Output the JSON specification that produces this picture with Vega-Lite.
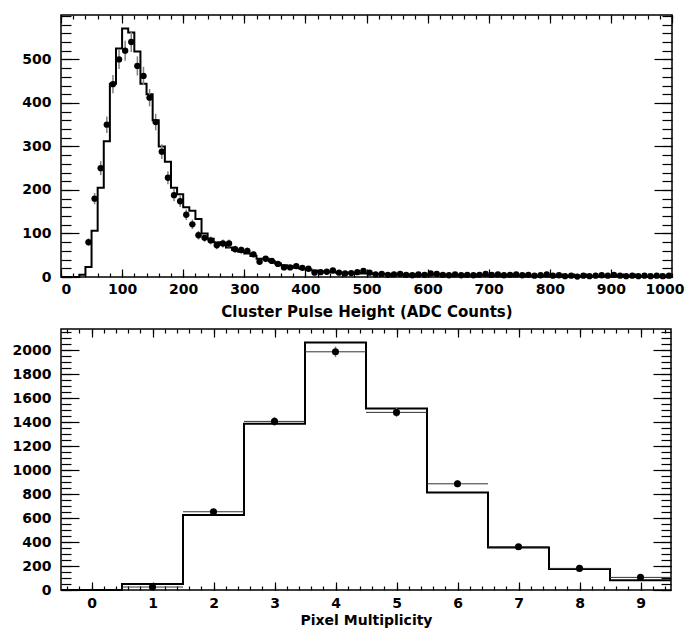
{
  "$schema": "https://vega.github.io/schema/vega-lite/v6.json",
  "background": "white",
  "padding": {"left": 11, "top": 13, "right": 0, "bottom": 0},
  "spacing": 7,
  "datasets": {
    "mcTop": [
      {"e":0,"n":0},{"e":10,"n":0},{"e":20,"n":0},{"e":30,"n":5},{"e":40,"n":23},{"e":50,"n":106},{"e":60,"n":205},{"e":70,"n":312},{"e":80,"n":444},{"e":90,"n":525},
      {"e":100,"n":571},{"e":110,"n":562},{"e":120,"n":518},{"e":130,"n":444},{"e":140,"n":420},{"e":150,"n":360},{"e":160,"n":300},{"e":170,"n":265},{"e":180,"n":205},{"e":190,"n":190},
      {"e":200,"n":160},{"e":210,"n":152},{"e":220,"n":133},{"e":230,"n":100},{"e":240,"n":88},{"e":250,"n":80},{"e":260,"n":74},{"e":270,"n":68},{"e":280,"n":62},{"e":290,"n":58},
      {"e":300,"n":54},{"e":310,"n":48},{"e":320,"n":42},{"e":330,"n":42},{"e":340,"n":36},{"e":350,"n":31},{"e":360,"n":27},{"e":370,"n":24},{"e":380,"n":21},{"e":390,"n":19},
      {"e":400,"n":17},{"e":410,"n":15},{"e":420,"n":13},{"e":430,"n":12},{"e":440,"n":11},{"e":450,"n":10},{"e":460,"n":10},{"e":470,"n":9},{"e":480,"n":9},{"e":490,"n":8},
      {"e":500,"n":8},{"e":510,"n":7},{"e":520,"n":7},{"e":530,"n":7},{"e":540,"n":6},{"e":550,"n":6},{"e":560,"n":6},{"e":570,"n":6},{"e":580,"n":5},{"e":590,"n":5},
      {"e":600,"n":5},{"e":610,"n":5},{"e":620,"n":5},{"e":630,"n":4},{"e":640,"n":4},{"e":650,"n":4},{"e":660,"n":4},{"e":670,"n":4},{"e":680,"n":4},{"e":690,"n":4},
      {"e":700,"n":3},{"e":710,"n":3},{"e":720,"n":3},{"e":730,"n":3},{"e":740,"n":3},{"e":750,"n":3},{"e":760,"n":3},{"e":770,"n":3},{"e":780,"n":3},{"e":790,"n":2},
      {"e":800,"n":2},{"e":810,"n":2},{"e":820,"n":2},{"e":830,"n":2},{"e":840,"n":2},{"e":850,"n":2},{"e":860,"n":2},{"e":870,"n":2},{"e":880,"n":2},{"e":890,"n":2},
      {"e":900,"n":2},{"e":910,"n":2},{"e":920,"n":2},{"e":930,"n":1},{"e":940,"n":1},{"e":950,"n":1},{"e":960,"n":1},{"e":970,"n":1},{"e":980,"n":1},{"e":990,"n":1},
      {"e":1000,"n":1}
    ],
    "dataTop": [
      {"lo":40,"hi":50,"c":45,"n":80,"err":9},
      {"lo":50,"hi":60,"c":55,"n":180,"err":13},
      {"lo":60,"hi":70,"c":65,"n":250,"err":16},
      {"lo":70,"hi":80,"c":75,"n":350,"err":19},
      {"lo":80,"hi":90,"c":85,"n":443,"err":21},
      {"lo":90,"hi":100,"c":95,"n":500,"err":22},
      {"lo":100,"hi":110,"c":105,"n":520,"err":23},
      {"lo":110,"hi":120,"c":115,"n":540,"err":23},
      {"lo":120,"hi":130,"c":125,"n":485,"err":22},
      {"lo":130,"hi":140,"c":135,"n":462,"err":21},
      {"lo":140,"hi":150,"c":145,"n":412,"err":20},
      {"lo":150,"hi":160,"c":155,"n":356,"err":19},
      {"lo":160,"hi":170,"c":165,"n":288,"err":17},
      {"lo":170,"hi":180,"c":175,"n":228,"err":15},
      {"lo":180,"hi":190,"c":185,"n":188,"err":14},
      {"lo":190,"hi":200,"c":195,"n":174,"err":13},
      {"lo":200,"hi":210,"c":205,"n":143,"err":12},
      {"lo":210,"hi":220,"c":215,"n":121,"err":11},
      {"lo":220,"hi":230,"c":225,"n":96,"err":10},
      {"lo":230,"hi":240,"c":235,"n":90,"err":9},
      {"lo":240,"hi":250,"c":245,"n":84,"err":9},
      {"lo":250,"hi":260,"c":255,"n":73,"err":9},
      {"lo":260,"hi":270,"c":265,"n":77,"err":9},
      {"lo":270,"hi":280,"c":275,"n":77,"err":9},
      {"lo":280,"hi":290,"c":285,"n":64,"err":8},
      {"lo":290,"hi":300,"c":295,"n":62,"err":8},
      {"lo":300,"hi":310,"c":305,"n":60,"err":8},
      {"lo":310,"hi":320,"c":315,"n":52,"err":7},
      {"lo":320,"hi":330,"c":325,"n":35,"err":6},
      {"lo":330,"hi":340,"c":335,"n":42,"err":6},
      {"lo":340,"hi":350,"c":345,"n":37,"err":6},
      {"lo":350,"hi":360,"c":355,"n":30,"err":5},
      {"lo":360,"hi":370,"c":365,"n":22,"err":5},
      {"lo":370,"hi":380,"c":375,"n":22,"err":5},
      {"lo":380,"hi":390,"c":385,"n":25,"err":5},
      {"lo":390,"hi":400,"c":395,"n":21,"err":5},
      {"lo":400,"hi":410,"c":405,"n":19,"err":4},
      {"lo":410,"hi":420,"c":415,"n":10,"err":3},
      {"lo":420,"hi":430,"c":425,"n":11,"err":3},
      {"lo":430,"hi":440,"c":435,"n":12,"err":3},
      {"lo":440,"hi":450,"c":445,"n":15,"err":4},
      {"lo":450,"hi":460,"c":455,"n":10,"err":3},
      {"lo":460,"hi":470,"c":465,"n":8,"err":3},
      {"lo":470,"hi":480,"c":475,"n":9,"err":3},
      {"lo":480,"hi":490,"c":485,"n":11,"err":3},
      {"lo":490,"hi":500,"c":495,"n":14,"err":4},
      {"lo":500,"hi":510,"c":505,"n":10,"err":3},
      {"lo":510,"hi":520,"c":515,"n":6,"err":2},
      {"lo":520,"hi":530,"c":525,"n":7,"err":3},
      {"lo":530,"hi":540,"c":535,"n":5,"err":2},
      {"lo":540,"hi":550,"c":545,"n":6,"err":2},
      {"lo":550,"hi":560,"c":555,"n":7,"err":3},
      {"lo":560,"hi":570,"c":565,"n":5,"err":2},
      {"lo":570,"hi":580,"c":575,"n":4,"err":2},
      {"lo":580,"hi":590,"c":585,"n":6,"err":2},
      {"lo":590,"hi":600,"c":595,"n":5,"err":2},
      {"lo":600,"hi":610,"c":605,"n":8,"err":3},
      {"lo":610,"hi":620,"c":615,"n":7,"err":3},
      {"lo":620,"hi":630,"c":625,"n":5,"err":2},
      {"lo":630,"hi":640,"c":635,"n":4,"err":2},
      {"lo":640,"hi":650,"c":645,"n":6,"err":2},
      {"lo":650,"hi":660,"c":655,"n":4,"err":2},
      {"lo":660,"hi":670,"c":665,"n":5,"err":2},
      {"lo":670,"hi":680,"c":675,"n":4,"err":2},
      {"lo":680,"hi":690,"c":685,"n":5,"err":2},
      {"lo":690,"hi":700,"c":695,"n":7,"err":3},
      {"lo":700,"hi":710,"c":705,"n":5,"err":2},
      {"lo":710,"hi":720,"c":715,"n":6,"err":2},
      {"lo":720,"hi":730,"c":725,"n":4,"err":2},
      {"lo":730,"hi":740,"c":735,"n":5,"err":2},
      {"lo":740,"hi":750,"c":745,"n":6,"err":2},
      {"lo":750,"hi":760,"c":755,"n":4,"err":2},
      {"lo":760,"hi":770,"c":765,"n":5,"err":2},
      {"lo":770,"hi":780,"c":775,"n":3,"err":2},
      {"lo":780,"hi":790,"c":785,"n":4,"err":2},
      {"lo":790,"hi":800,"c":795,"n":6,"err":2},
      {"lo":800,"hi":810,"c":805,"n":3,"err":2},
      {"lo":810,"hi":820,"c":815,"n":4,"err":2},
      {"lo":820,"hi":830,"c":825,"n":2,"err":1},
      {"lo":830,"hi":840,"c":835,"n":3,"err":2},
      {"lo":840,"hi":850,"c":845,"n":1,"err":1},
      {"lo":850,"hi":860,"c":855,"n":3,"err":2},
      {"lo":860,"hi":870,"c":865,"n":2,"err":1},
      {"lo":870,"hi":880,"c":875,"n":3,"err":2},
      {"lo":880,"hi":890,"c":885,"n":4,"err":2},
      {"lo":890,"hi":900,"c":895,"n":3,"err":2},
      {"lo":900,"hi":910,"c":905,"n":5,"err":2},
      {"lo":910,"hi":920,"c":915,"n":3,"err":2},
      {"lo":920,"hi":930,"c":925,"n":2,"err":1},
      {"lo":930,"hi":940,"c":935,"n":3,"err":2},
      {"lo":940,"hi":950,"c":945,"n":2,"err":1},
      {"lo":950,"hi":960,"c":955,"n":3,"err":2},
      {"lo":960,"hi":970,"c":965,"n":2,"err":1},
      {"lo":970,"hi":980,"c":975,"n":3,"err":2},
      {"lo":980,"hi":990,"c":985,"n":2,"err":1},
      {"lo":990,"hi":1000,"c":995,"n":3,"err":2}
    ],
    "mcBot": [
      {"e":-0.5,"n":0},{"e":0.5,"n":50},{"e":1.5,"n":625},{"e":2.5,"n":1385},{"e":3.5,"n":2063},{"e":4.5,"n":1513},{"e":5.5,"n":813},{"e":6.5,"n":355},{"e":7.5,"n":175},{"e":8.5,"n":82},{"e":9.5,"n":82}
    ],
    "dataBot": [
      {"lo":0.5,"hi":1.5,"c":1,"n":25,"err":5},
      {"lo":1.5,"hi":2.5,"c":2,"n":652,"err":26},
      {"lo":2.5,"hi":3.5,"c":3,"n":1405,"err":37},
      {"lo":3.5,"hi":4.5,"c":4,"n":1985,"err":45},
      {"lo":4.5,"hi":5.5,"c":5,"n":1480,"err":38},
      {"lo":5.5,"hi":6.5,"c":6,"n":885,"err":30},
      {"lo":6.5,"hi":7.5,"c":7,"n":360,"err":19},
      {"lo":7.5,"hi":8.5,"c":8,"n":180,"err":13},
      {"lo":8.5,"hi":9.5,"c":9,"n":105,"err":10}
    ]
  },
  "config": {
    "view": {"stroke": "black", "strokeWidth": 1.5},
    "axis": {
      "grid": false, "domain": false, "tickColor": "black", "tickWidth": 1.2,
      "labelFont": "DejaVu Sans", "labelFontWeight": "bold", "labelFontSize": 14, "labelColor": "black",
      "titleFont": "DejaVu Sans", "titleFontWeight": "bold", "titleFontSize": 15, "titleColor": "black",
      "labelOverlap": false
    }
  },
  "vconcat": [
    {
      "width": 611,
      "height": 262,
      "layer": [
        {
          "data": {"name": "mcTop"},
          "mark": {"type": "line", "interpolate": "step-after", "color": "black", "strokeWidth": 2},
          "encoding": {
            "x": {"field": "e", "type": "quantitative", "scale": {"domain": [0, 1000], "nice": false, "zero": false},
                  "axis": {"orient": "bottom", "values": [0,100,200,300,400,500,600,700,800,900], "format": "d", "tickSize": -8, "labelPadding": 13, "title": "Cluster Pulse Height (ADC Counts)", "titlePadding": 8}},
            "y": {"field": "n", "type": "quantitative", "scale": {"domain": [0, 602], "nice": false},
                  "axis": {"orient": "left", "values": [0,100,200,300,400,500], "format": "d", "tickSize": -18, "labelPadding": 28, "title": null}}
          }
        },
        {
          "data": {"name": "dataTop"},
          "mark": {"type": "rule", "color": "#333333", "strokeWidth": 1},
          "encoding": {
            "x": {"field": "lo", "type": "quantitative",
                  "axis": {"orient": "bottom", "tickCount": 50, "tickSize": -4, "labelPadding": 9, "labelExpr": "datum.value == 1000 ? '1000' : ''", "labelFlush": true, "labelFlushOffset": 12, "title": null}},
            "x2": {"field": "hi"},
            "y": {"field": "n", "type": "quantitative",
                  "axis": {"orient": "left", "tickCount": 30, "tickSize": -10, "labels": false, "title": null}}
          }
        },
        {
          "data": {"name": "dataTop"},
          "mark": {"type": "errorbar", "color": "#808080", "thickness": 1.5},
          "encoding": {
            "x": {"field": "c", "type": "quantitative", "axis": null},
            "y": {"field": "n", "type": "quantitative", "axis": null},
            "yError": {"field": "err"}
          }
        },
        {
          "data": {"name": "dataTop"},
          "mark": {"type": "circle", "color": "black", "size": 40, "opacity": 1},
          "encoding": {
            "x": {"field": "c", "type": "quantitative",
                  "axis": {"orient": "top", "values": [0,100,200,300,400,500,600,700,800,900,1000], "tickSize": -8, "labels": false, "title": null}},
            "y": {"field": "n", "type": "quantitative",
                  "axis": {"orient": "right", "values": [0,100,200,300,400,500], "tickSize": -18, "labels": false, "title": null}}
          }
        },
        {
          "data": {"name": "mcTop"},
          "mark": {"type": "point", "opacity": 0},
          "encoding": {
            "x": {"field": "e", "type": "quantitative",
                  "axis": {"orient": "top", "tickCount": 50, "tickSize": -4, "labels": false, "title": null}},
            "y": {"field": "n", "type": "quantitative",
                  "axis": {"orient": "right", "tickCount": 30, "tickSize": -10, "labels": false, "title": null}}
          }
        }
      ],
      "resolve": {"axis": {"x": "independent", "y": "independent"}}
    },
    {
      "width": 610,
      "height": 261,
      "layer": [
        {
          "data": {"name": "mcBot"},
          "mark": {"type": "line", "interpolate": "step-after", "color": "black", "strokeWidth": 2},
          "encoding": {
            "x": {"field": "e", "type": "quantitative", "scale": {"domain": [-0.5, 9.5], "nice": false, "zero": false},
                  "axis": {"orient": "bottom", "values": [0,1,2,3,4,5,6,7,8,9], "format": "d", "tickSize": -8, "labelPadding": 14, "title": "Pixel Multiplicity", "titleFontSize": 14, "titlePadding": 3}},
            "y": {"field": "n", "type": "quantitative", "scale": {"domain": [0, 2175], "nice": false},
                  "axis": {"orient": "left", "values": [0,200,400,600,800,1000,1200,1400,1600,1800,2000], "format": "d", "tickSize": -18, "labelPadding": 28, "title": null}}
          }
        },
        {
          "data": {"name": "dataBot"},
          "mark": {"type": "rule", "color": "#333333", "strokeWidth": 1},
          "encoding": {
            "x": {"field": "lo", "type": "quantitative",
                  "axis": {"orient": "bottom", "tickCount": 50, "tickSize": -4, "labels": false, "title": null}},
            "x2": {"field": "hi"},
            "y": {"field": "n", "type": "quantitative",
                  "axis": {"orient": "left", "tickCount": 44, "tickSize": -10, "labels": false, "title": null}}
          }
        },
        {
          "data": {"name": "dataBot"},
          "mark": {"type": "errorbar", "color": "#808080", "thickness": 1.5},
          "encoding": {
            "x": {"field": "c", "type": "quantitative", "axis": null},
            "y": {"field": "n", "type": "quantitative", "axis": null},
            "yError": {"field": "err"}
          }
        },
        {
          "data": {"name": "dataBot"},
          "mark": {"type": "circle", "color": "black", "size": 50, "opacity": 1},
          "encoding": {
            "x": {"field": "c", "type": "quantitative",
                  "axis": {"orient": "top", "values": [0,1,2,3,4,5,6,7,8,9], "tickSize": -8, "labels": false, "title": null}},
            "y": {"field": "n", "type": "quantitative",
                  "axis": {"orient": "right", "values": [0,200,400,600,800,1000,1200,1400,1600,1800,2000], "tickSize": -18, "labels": false, "title": null}}
          }
        },
        {
          "data": {"name": "mcBot"},
          "mark": {"type": "point", "opacity": 0},
          "encoding": {
            "x": {"field": "e", "type": "quantitative",
                  "axis": {"orient": "top", "tickCount": 50, "tickSize": -4, "labels": false, "title": null}},
            "y": {"field": "n", "type": "quantitative",
                  "axis": {"orient": "right", "tickCount": 44, "tickSize": -10, "labels": false, "title": null}}
          }
        }
      ],
      "resolve": {"axis": {"x": "independent", "y": "independent"}}
    }
  ]
}
